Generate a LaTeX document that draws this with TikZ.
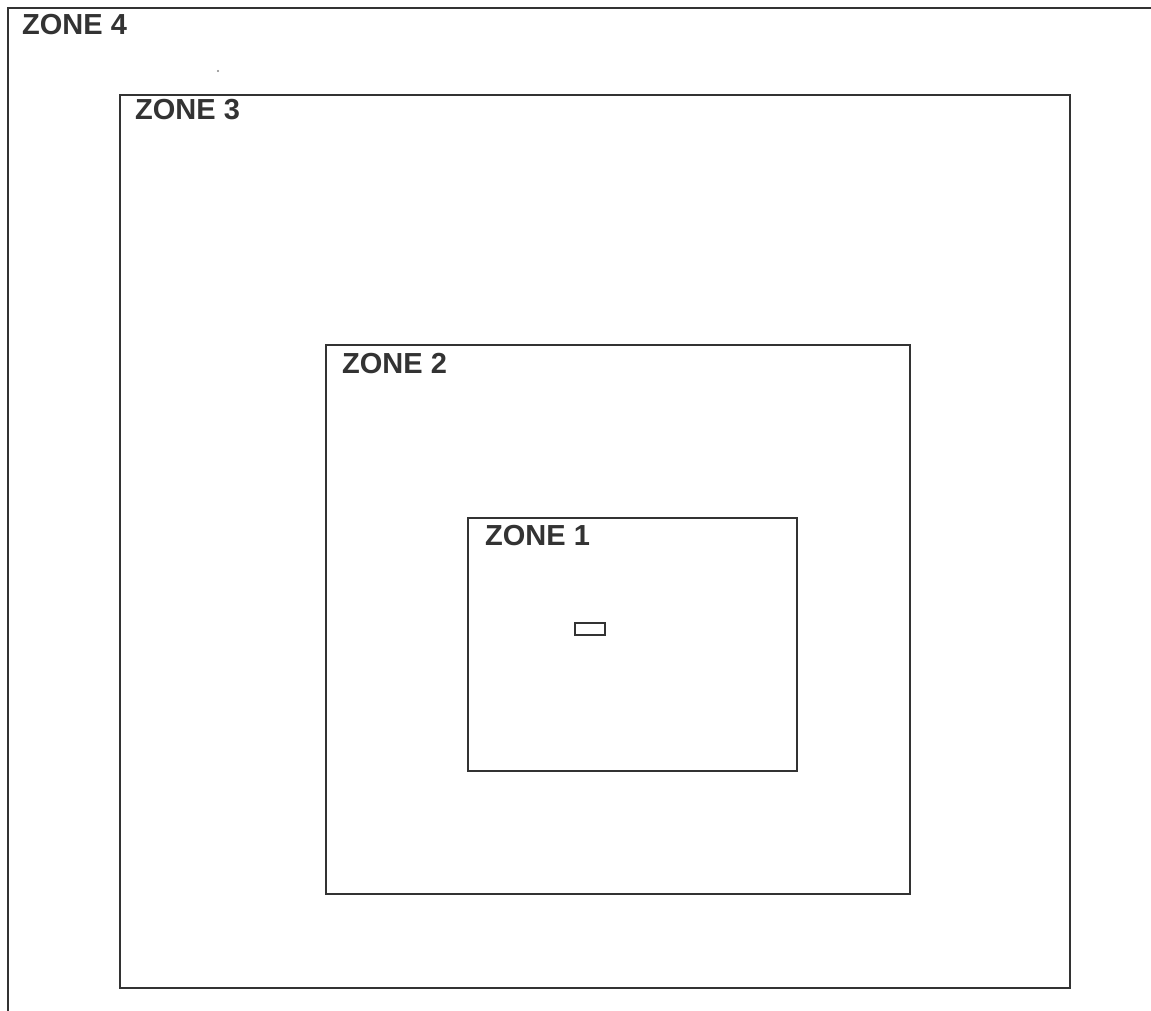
\documentclass[tikz,border=0pt]{standalone}
\usepackage{fontspec}
\setmainfont{Liberation Sans}
\definecolor{ink}{HTML}{333333}
\begin{document}
\begin{tikzpicture}[x=1pt,y=-1pt,
  zone/.style={draw=ink,line width=1.4pt},
  lbl/.style={anchor=base west,inner sep=0pt,text=ink,font=\fontsize{29}{32}\selectfont\bfseries}]
\useasboundingbox (0,0) rectangle (1151,1011);
% zone 4 (only top and left edges fall inside the picture)
\coordinate (z4tr) at (1151,8);
\coordinate (z4tl) at (8,8);
\coordinate (z4bl) at (8,1011);
\draw[ink,line width=1.8pt] (z4tr) -- (z4tl) -- (z4bl);
\node[lbl] (l4) at (22,35) {ZONE 4};
% zone 3
\draw[zone] (120,95) rectangle (1070,988);
\node[lbl] (l3) at (135,120) {ZONE 3};
% zone 2
\draw[zone] (326,345) rectangle (910,894);
\node[lbl] (l2) at (342,373) {ZONE 2};
% zone 1
\draw[zone] (468,518) rectangle (797,771);
\node[lbl] (l1) at (485,545) {ZONE 1};
% small marker
\draw[ink,line width=2.6pt] (575,623) rectangle (605,635);
% stray dot
\fill[ink!60] (218,71) circle (1.2);
\end{tikzpicture}
\end{document}
